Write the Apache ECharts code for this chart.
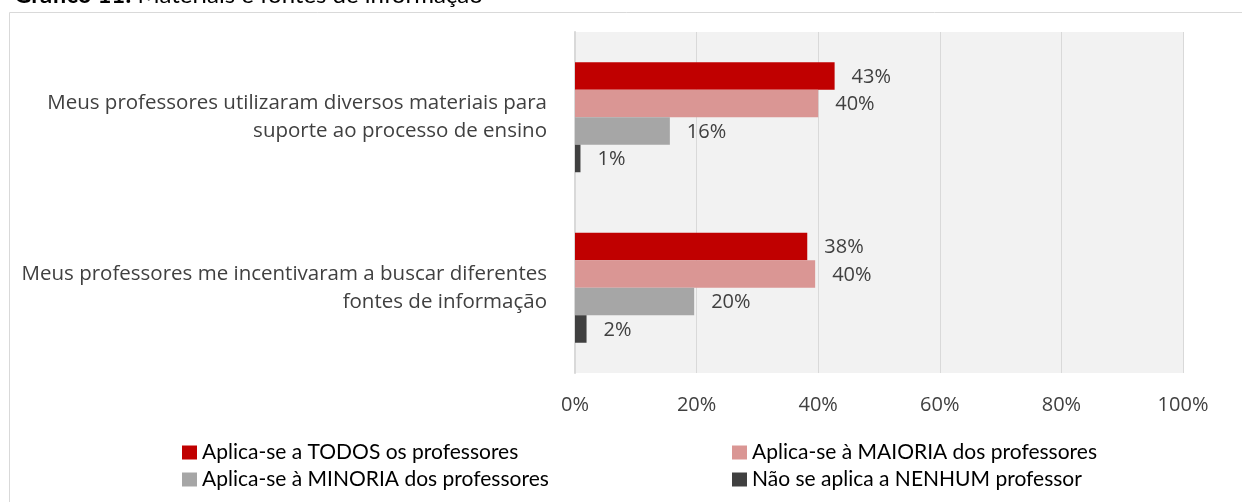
<!DOCTYPE html>
<html>
<head>
<meta charset="utf-8">
<script src="https://cdn.jsdelivr.net/npm/echarts@6/dist/echarts.min.js"></script>
<style>
    html, body { margin: 0; padding: 0; background: #fff; }
    #chart { width: 1242px; height: 502px; }
</style>
</head>
<body>
<div id="chart"></div>
<script>
var categories = [
    'Meus professores utilizaram diversos materiais para\nsuporte ao processo de ensino',
    'Meus professores me incentivaram a buscar diferentes\nfontes de informação'
];
var seriesNames = [
    'Aplica-se a TODOS os professores',
    'Aplica-se à MAIORIA dos professores',
    'Aplica-se à MINORIA dos professores',
    'Não se aplica a NENHUM professor'
];
var todos = [42.7, 38.2];
var maioria = [40.0, 39.5];
var minoria = [15.6, 19.6];
var nenhum = [0.9, 1.9];
var xTicks = [0, 20, 40, 60, 80, 100];
var colors = ['#c00000', '#da9694', '#a6a6a6', '#404040'];

var chart = echarts.init(document.getElementById('chart'));

function makeSeries(name, data, color) {
    return {
        name: name,
        type: 'bar',
        data: data,
        barWidth: 27.5,
        barGap: '0%',
        itemStyle: { color: color },
        label: {
            show: true,
            position: 'right',
            distance: 17,
            offset: [0, 1],
            color: '#404040',
            fontFamily: 'Open Sans',
            fontSize: 20,
            formatter: function (p) { return Math.round(p.value) + '%'; }
        }
    };
}

var legendText = {
    color: '#000',
    fontFamily: 'Lato',
    fontSize: 21
};

var option = {
    animation: false,
    graphic: [
        {
            type: 'rect',
            shape: { x: 9.5, y: 12.5, width: 1400, height: 700 },
            style: { fill: 'none', stroke: '#d9d9d9', lineWidth: 1 },
            silent: true
        },
        {
            type: 'text',
            x: 14,
            y: -5,
            style: {
                text: '{b|Gráfico 11:} Materiais e fontes de informação',
                fontFamily: 'Lato',
                fontSize: 24,
                fill: '#000',
                verticalAlign: 'middle',
                rich: {
                    b: { fontWeight: 'bold', fontFamily: 'Lato', fontSize: 24 }
                }
            }
        }
    ],
    grid: {
        left: 575,
        right: 59,
        top: 32,
        bottom: 129,
        show: true,
        backgroundColor: '#f2f2f2',
        borderWidth: 0
    },
    legend: [
        {
            orient: 'vertical',
            left: 177,
            top: 437,
            itemWidth: 15,
            itemHeight: 14,
            itemGap: 6,
            icon: 'rect',
            textStyle: legendText,
            data: [seriesNames[0], seriesNames[2]]
        },
        {
            orient: 'vertical',
            left: 727,
            top: 437,
            itemWidth: 15,
            itemHeight: 14,
            itemGap: 6,
            icon: 'rect',
            textStyle: legendText,
            data: [seriesNames[1], seriesNames[3]]
        }
    ],
    xAxis: {
        type: 'value',
        min: xTicks[0],
        max: xTicks[xTicks.length - 1],
        interval: 20,
        axisLine: { show: false },
        axisTick: { show: false },
        splitLine: { show: true, lineStyle: { color: '#d9d9d9', width: 1 } },
        axisLabel: {
            margin: 22,
            color: '#404040',
            fontFamily: 'Open Sans',
            fontSize: 20,
            formatter: '{value}%'
        }
    },
    yAxis: {
        type: 'category',
        inverse: true,
        data: categories,
        axisLine: { show: true, lineStyle: { color: '#d9d9d9', width: 2 } },
        axisTick: { show: false },
        axisLabel: {
            margin: 28,
            color: '#404040',
            fontFamily: 'Open Sans',
            fontSize: 20.5,
            lineHeight: 28,
            align: 'right'
        }
    },
    series: [
        makeSeries(seriesNames[0], todos, colors[0]),
        makeSeries(seriesNames[1], maioria, colors[1]),
        makeSeries(seriesNames[2], minoria, colors[2]),
        makeSeries(seriesNames[3], nenhum, colors[3])
    ]
};

chart.setOption(option);
</script>
</body>
</html>
